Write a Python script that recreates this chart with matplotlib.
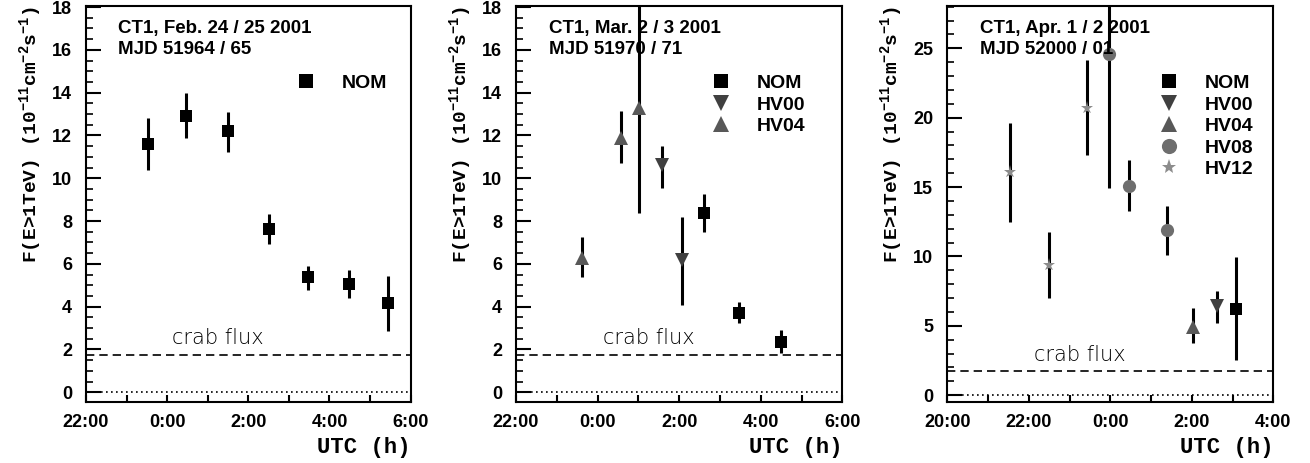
import matplotlib
matplotlib.use('Agg')
import matplotlib.pyplot as plt
from matplotlib.ticker import MultipleLocator, FuncFormatter

plt.rcParams['font.family'] = ['Liberation Sans', 'DejaVu Sans']
plt.rcParams['mathtext.fontset'] = 'custom'
plt.rcParams['mathtext.rm'] = 'Liberation Mono:bold'
plt.rcParams['mathtext.it'] = 'Liberation Mono:bold'
plt.rcParams['mathtext.bf'] = 'Liberation Mono:bold'

# hours relative to 0:00 UTC (negative = previous evening)
crab_flux = 1.75

# night 1: Feb 24/25
n1_nom_t = [-0.48, 0.46, 1.5, 2.51, 3.47, 4.49, 5.43]
n1_nom_f = [11.6, 12.93, 12.21, 7.63, 5.37, 5.06, 4.16]
n1_nom_lo = [10.39, 11.87, 11.25, 6.93, 4.78, 4.42, 2.88]
n1_nom_hi = [12.8, 13.97, 13.08, 8.32, 5.92, 5.69, 5.44]

# night 2: Mar 2/3
n2_hv04_t = [-0.37, 0.57, 1.02]
n2_hv04_f = [6.29, 11.9, 13.27]
n2_hv04_lo = [5.37, 10.7, 8.4]
n2_hv04_hi = [7.24, 13.15, 19.0]
n2_hv00_t = [1.59, 2.07]
n2_hv00_f = [10.62, 6.18]
n2_hv00_lo = [9.56, 4.07]
n2_hv00_hi = [11.53, 8.18]
n2_nom_t = [2.62, 3.46, 4.49]
n2_nom_f = [8.4, 3.72, 2.37]
n2_nom_lo = [7.5, 3.22, 1.82]
n2_nom_hi = [9.25, 4.24, 2.91]

# night 3: Apr 1/2
n3_hv12_t = [-2.45, -1.51, -0.57]
n3_hv12_f = [16.07, 9.36, 20.73]
n3_hv12_lo = [12.45, 7.0, 17.3]
n3_hv12_hi = [19.65, 11.73, 24.16]
n3_hv08_t = [-0.02, 0.45, 1.38]
n3_hv08_f = [24.57, 15.11, 11.9]
n3_hv08_lo = [14.97, 13.27, 10.08]
n3_hv08_hi = [29.0, 16.96, 13.65]
n3_hv04_t = [2.04]
n3_hv04_f = [4.89]
n3_hv04_lo = [3.77]
n3_hv04_hi = [6.29]
n3_hv00_t = [2.61]
n3_hv00_f = [6.45]
n3_hv00_lo = [5.21]
n3_hv00_hi = [7.49]
n3_nom_t = [3.08]
n3_nom_f = [6.24]
n3_nom_lo = [2.57]
n3_nom_hi = [9.93]

styles = {
    'NOM': dict(marker='s', color='black', ms=8.5),
    'HV00': dict(marker='v', color='#404040', ms=9.5),
    'HV04': dict(marker='^', color='#585858', ms=9.5),
    'HV08': dict(marker='o', color='#6e6e6e', ms=9.5),
    'HV12': dict(marker='*', color='#8c8c8c', ms=9.5),
}

panels = [
    dict(pos=[0.0656, 0.132, 0.2479, 0.855], xlim=(-2, 6), ylim=(-0.45, 18.05),
         ymaj=2, ymin=0.5, title=('CT1, Feb. 24 / 25 2001', 'MJD 51964 / 65'),
         leg=(0.65, 0.827), crab_y=2.05, crab_x=1.25,
         series=[('NOM', n1_nom_t, n1_nom_f, n1_nom_lo, n1_nom_hi)]),
    dict(pos=[0.3939, 0.132, 0.2491, 0.855], xlim=(-2, 6), ylim=(-0.45, 18.05),
         ymaj=2, ymin=0.5, title=('CT1, Mar. 2 / 3 2001', 'MJD 51970 / 71'),
         leg=(0.60, 0.827), crab_y=2.05, crab_x=1.25,
         series=[('NOM', n2_nom_t, n2_nom_f, n2_nom_lo, n2_nom_hi),
                 ('HV00', n2_hv00_t, n2_hv00_f, n2_hv00_lo, n2_hv00_hi),
                 ('HV04', n2_hv04_t, n2_hv04_f, n2_hv04_lo, n2_hv04_hi)]),
    dict(pos=[0.7231, 0.132, 0.2489, 0.855], xlim=(-4, 4), ylim=(-0.48, 28.05),
         ymaj=5, ymin=1, title=('CT1, Apr. 1 / 2 2001', 'MJD 52000 / 01'),
         leg=(0.653, 0.827), crab_y=2.2, crab_x=-0.75,
         series=[('NOM', n3_nom_t, n3_nom_f, n3_nom_lo, n3_nom_hi),
                 ('HV00', n3_hv00_t, n3_hv00_f, n3_hv00_lo, n3_hv00_hi),
                 ('HV04', n3_hv04_t, n3_hv04_f, n3_hv04_lo, n3_hv04_hi),
                 ('HV08', n3_hv08_t, n3_hv08_f, n3_hv08_lo, n3_hv08_hi),
                 ('HV12', n3_hv12_t, n3_hv12_f, n3_hv12_lo, n3_hv12_hi)]),
]

fig = plt.figure(figsize=(13.1, 4.63), dpi=100)

hour_fmt = FuncFormatter(lambda v, p: f'{int(round(v)) % 24}:00')
ylab = r'F(E>1TeV) (10$^{-11}$cm$^{-2}$s$^{-1}$)'

for p in panels:
    ax = fig.add_axes(p['pos'])
    ax.set_xlim(*p['xlim'])
    ax.set_ylim(*p['ylim'])

    ax.axhline(0, color='black', ls=(0, (1, 2)), lw=1.2, zorder=1)
    ax.axhline(crab_flux, color='black', ls=(0, (5, 3)), lw=1.2, zorder=1)
    ax.text(p['crab_x'], p['crab_y'], 'crab flux', ha='center', va='bottom',
            fontsize=15, color='black', family=['DejaVu Sans'],
            fontweight='light')

    for name, t, f, lo, hi in p['series']:
        err = [[a - b for a, b in zip(f, lo)], [b - a for a, b in zip(f, hi)]]
        ax.errorbar(t, f, yerr=err, fmt='none', ecolor='black', elinewidth=2.2,
                    capsize=0, zorder=2)
        st = styles[name]
        ax.plot(t, f, ls='none', marker=st['marker'], color=st['color'],
                ms=st['ms'], mew=0, label=name, zorder=3)

    ax.legend(loc='upper left', bbox_to_anchor=p['leg'], frameon=False,
              borderpad=0, borderaxespad=0, handlelength=0.9, handletextpad=1.4,
              labelspacing=0.2, markerscale=1.15,
              prop=dict(weight='bold', size=14))

    ax.text(0.1, 0.944, p['title'][0], transform=ax.transAxes, fontsize=13.5,
            fontweight='bold', va='center')
    ax.text(0.1, 0.889, p['title'][1], transform=ax.transAxes, fontsize=13.5,
            fontweight='bold', va='center')

    ax.xaxis.set_major_locator(MultipleLocator(2))
    ax.xaxis.set_minor_locator(MultipleLocator(1))
    ax.xaxis.set_major_formatter(hour_fmt)
    ax.yaxis.set_major_locator(MultipleLocator(p['ymaj']))
    ax.yaxis.set_minor_locator(MultipleLocator(p['ymin']))

    ax.tick_params(axis='x', which='both', direction='in', length=5, width=1.5,
                   top=False, pad=9, labelsize=13)
    ax.tick_params(axis='y', which='major', direction='in', length=11, width=1.5,
                   right=False, pad=10, labelsize=13)
    ax.tick_params(axis='y', which='minor', direction='in', length=5, width=1.2,
                   right=False)
    for lab in ax.get_xticklabels() + ax.get_yticklabels():
        lab.set_fontweight('bold')
    for s in ax.spines.values():
        s.set_linewidth(1.5)

    ax.set_xlabel('UTC (h)', loc='right', family='Liberation Mono',
                  fontweight='bold', fontsize=16, labelpad=4)
    ax.set_ylabel(ylab, loc='top', family='Liberation Mono',
                  fontweight='bold', fontsize=14, labelpad=6)

fig.savefig('out.png', dpi=100)
